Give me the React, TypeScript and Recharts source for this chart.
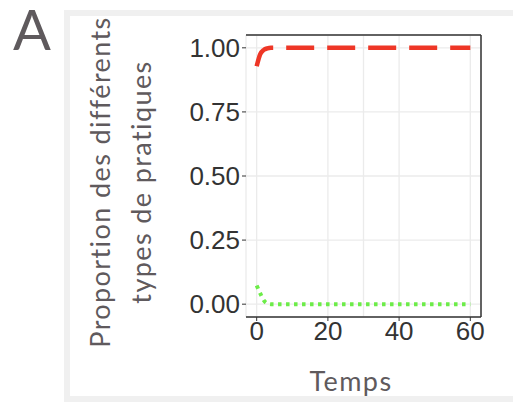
import React from 'react';
import { LineChart, Line, XAxis, YAxis, CartesianGrid, ReferenceLine } from 'recharts';

const temps = [0, 1, 2, 3, 4, 10, 20, 30, 40, 50, 60];
const pratiqueRouge = [0.928, 0.975, 0.992, 0.998, 1, 1, 1, 1, 1, 1, 1];
const pratiqueVerte = [0.073, 0.042, 0.015, 0.003, 0, 0, 0, 0, 0, 0, 0];
const xTicks = [0, 20, 40, 60];
const yTicks = [0, 0.25, 0.5, 0.75, 1];

const data = temps.map((t, i) => ({ temps: t, rouge: pratiqueRouge[i], verte: pratiqueVerte[i] }));

const titleFont = 'Lato, "Open Sans", sans-serif';
const tickFont = '"Liberation Sans", Arial, sans-serif';
const titleColor = '#5f5a5d';

export default function App() {
  return (
    <div style={{ position: 'absolute', left: 0, top: 0, width: 513, height: 402, background: '#fff' }}>
      {/* cadre gris */}
      <div
        style={{
          position: 'absolute',
          left: 64,
          top: 10,
          width: 449,
          height: 392,
          boxSizing: 'border-box',
          border: '6px solid #f0f0f0',
          borderRight: 'none',
        }}
      />
      <div style={{ position: 'absolute', left: 0, top: 0 }}>
        <LineChart width={513} height={402} data={data} margin={{ top: 35, right: 32, bottom: 55, left: 186 }}>
          <CartesianGrid stroke="#ebebeb" strokeWidth={1.3} />
          <ReferenceLine x={30} stroke="#ebebeb" strokeWidth={1.3} />
          <XAxis
            dataKey="temps"
            type="number"
            domain={[-3, 63]}
            ticks={xTicks}
            allowDataOverflow
            height={30}
            tickSize={4}
            tickMargin={1}
            stroke="#333"
            axisLine={{ stroke: '#333', strokeWidth: 1.5 }}
            tick={{ fontFamily: tickFont, fontSize: 26, fill: '#333' }}
          />
          <YAxis
            type="number"
            domain={[-0.05, 1.05]}
            ticks={yTicks}
            allowDataOverflow
            width={60}
            axisLine={false}
            tickSize={4}
            tickMargin={2}
            stroke="#333"
            tickFormatter={(v: number) => v.toFixed(2)}
            tick={{ fontFamily: tickFont, fontSize: 26, fill: '#333' }}
          />
          <ReferenceLine y={1.05} stroke="#333" strokeWidth={1.5} />
          <ReferenceLine x={63} stroke="#333" strokeWidth={1.5} />
          <Line
            type="monotone"
            dataKey="rouge"
            stroke="#ee3626"
            strokeWidth={4.5}
            strokeDasharray="28 13"
            dot={false}
            isAnimationActive={false}
          />
          <Line
            type="monotone"
            dataKey="verte"
            stroke="#6cec48"
            strokeWidth={4}
            strokeDasharray="3.5 4.5"
            dot={false}
            isAnimationActive={false}
          />
        </LineChart>
      </div>
      <svg width={513} height={402} style={{ position: 'absolute', left: 0, top: 0, pointerEvents: 'none' }}>
        <text x={13} y={50} fontFamily={titleFont} fontSize={56} fill={titleColor}>A</text>
        <g fontFamily={titleFont} fontSize={27} letterSpacing={1.4} fill={titleColor} textAnchor="middle">
          <text transform="translate(110,182) rotate(-90)">Proportion des différents</text>
          <text transform="translate(151,182) rotate(-90)">types de pratiques</text>
          <text x={351} y={391}>Temps</text>
        </g>
      </svg>
    </div>
  );
}
